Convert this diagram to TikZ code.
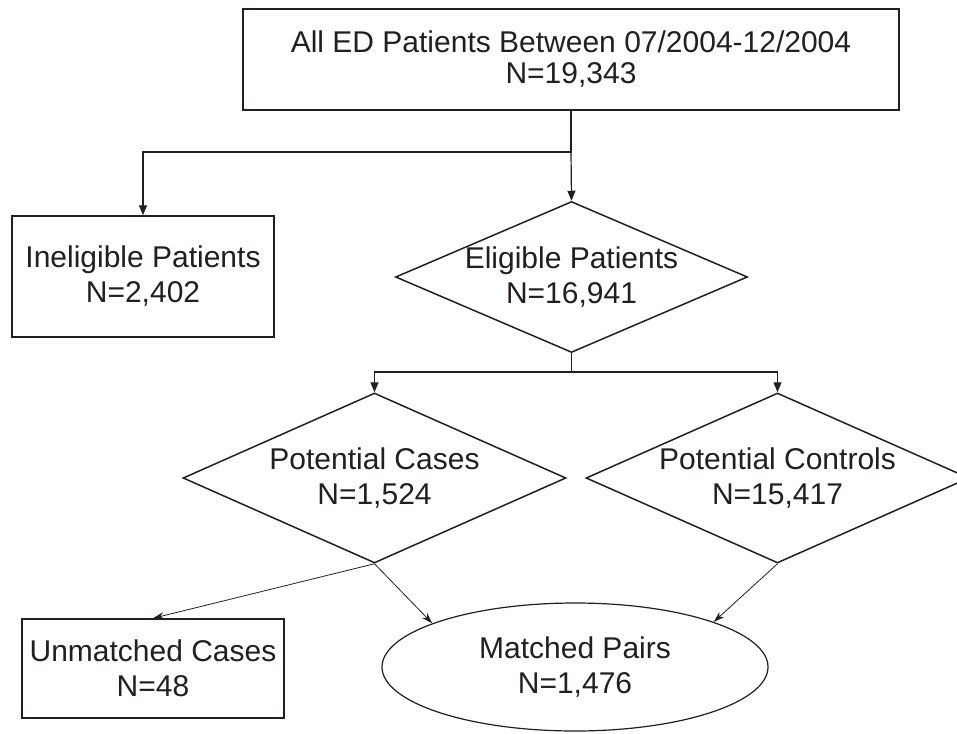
\documentclass[tikz,border=0pt]{standalone}
\usepackage{fontspec}
\setmainfont{Liberation Sans}
\usetikzlibrary{shapes.geometric,arrows.meta}
\definecolor{ink}{RGB}{35,31,32}
\begin{document}
\begin{tikzpicture}[x=1pt,y=-1pt,
  font=\fontsize{30}{35}\selectfont,
  box/.style={draw=ink, line width=1.5pt, rectangle, inner sep=0pt, align=center, text=ink},
  dia/.style={draw=ink, line width=1.5pt, diamond, inner sep=-3pt, align=center, text=ink},
  oval/.style={draw=ink, line width=1.2pt, ellipse, inner sep=0pt, align=center, text=ink},
  arr/.style={draw=ink, line width=1.2pt, -{Triangle[length=10pt,width=8pt]}},
  thinarr/.style={draw=ink, line width=0.8pt, -{Stealth[length=11pt,width=7pt]}}]
\clip (0,0) rectangle (957,733);
\fill[white] (0,0) rectangle (957,733);

\node[box, minimum width=656pt, minimum height=101pt, font=\fontsize{30}{31}\selectfont]
  (top) at (571,59.5) {All ED Patients Between 07/2004-12/2004\\N=19,343};
\node[box, minimum width=262pt, minimum height=121pt] (inel) at (143,276.5)
  {Ineligible Patients\\N=2,402};
\node[dia, shape aspect=2.33, minimum width=352pt, minimum height=151pt] (elig) at (571.5,277)
  {Eligible Patients\\N=16,941};
\node[dia, shape aspect=2.25, minimum width=383pt, minimum height=170pt] (cases) at (374.5,478)
  {Potential Cases\\N=1,524};
\node[dia, shape aspect=2.25, minimum width=383pt, minimum height=170pt] (controls) at (777.5,478)
  {Potential Controls\\N=15,417};
\node[box, minimum width=262pt, minimum height=99pt] (unm) at (153,668.5)
  {Unmatched Cases\\N=48};
\node[oval, minimum width=386pt, minimum height=128pt] (matched) at (575,667)
  {Matched Pairs\\N=1,476};

\coordinate (j1) at (571,152);
\coordinate (j2) at (571.5,372);

\draw[arr] (top.south) -- (j1) -| (inel.north);
\draw[arr] (j1) -- (elig.north);
\draw[arr] (elig.south) -- (j2) -| (cases.north);
\draw[arr] (j2) -| (controls.north);

\draw[thinarr] (cases.south) -- (unm.north);
\draw[thinarr] (cases.south) -- (matched.163);
\draw[thinarr] (controls.south) -- (matched.18);
\end{tikzpicture}
\end{document}
